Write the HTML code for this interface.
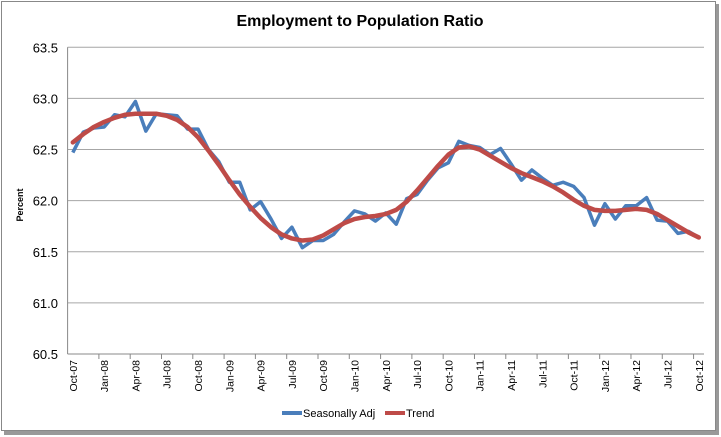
<!DOCTYPE html>
<html><head><meta charset="utf-8"><style>
body{margin:0;background:#fff;width:721px;height:437px;overflow:hidden;font-family:"Liberation Sans",sans-serif}
svg{display:block}
</style></head><body>
<svg id="c" width="721" height="437">
<rect x="4" y="4" width="715" height="431" fill="#999"/>
<rect x="1.5" y="1.5" width="714" height="429" fill="#fff" stroke="#888"/>
<text x="360" y="26" text-anchor="middle" font-size="16" font-weight="bold" fill="#000">Employment to Population Ratio</text>
<text transform="translate(23,205) rotate(-90)" text-anchor="middle" font-size="9" font-weight="bold">Percent</text>
<g id="grid"></g><g id="series"></g><g id="xl"></g>
<g>
<line x1="282" y1="413" x2="302" y2="413" stroke="#4a7ebb" stroke-width="4"/>
<text x="303" y="417" font-size="11">Seasonally Adj</text>
<line x1="385" y1="413" x2="405" y2="413" stroke="#be4b48" stroke-width="4"/>
<text x="406" y="417" font-size="11">Trend</text>
</g>
</svg>
<script>
const yTicks=[60.5,61.0,61.5,62.0,62.5,63.0,63.5];
const xLabels=["Oct-07","Jan-08","Apr-08","Jul-08","Oct-08","Jan-09","Apr-09","Jul-09","Oct-09","Jan-10","Apr-10","Jul-10","Oct-10","Jan-11","Apr-11","Jul-11","Oct-11","Jan-12","Apr-12","Jul-12","Oct-12"];
const seasAdj=[62.47,62.67,62.71,62.72,62.84,62.82,62.97,62.68,62.85,62.84,62.83,62.70,62.70,62.50,62.38,62.18,62.18,61.91,61.99,61.82,61.63,61.74,61.54,61.61,61.61,61.67,61.79,61.90,61.87,61.80,61.88,61.77,62.02,62.06,62.20,62.32,62.37,62.58,62.54,62.52,62.45,62.51,62.36,62.20,62.30,62.22,62.15,62.18,62.14,62.03,61.76,61.97,61.82,61.95,61.95,62.03,61.81,61.80,61.68,61.70,61.64];
const trend=[62.57,62.65,62.72,62.77,62.81,62.84,62.85,62.85,62.85,62.83,62.79,62.72,62.62,62.49,62.35,62.20,62.06,61.94,61.83,61.74,61.67,61.63,61.61,61.62,61.66,61.72,61.78,61.82,61.84,61.85,61.87,61.91,61.99,62.10,62.22,62.34,62.45,62.52,62.53,62.50,62.44,62.38,62.32,62.27,62.23,62.19,62.14,62.08,62.01,61.95,61.91,61.90,61.90,61.91,61.92,61.91,61.87,61.81,61.75,61.69,61.64];
const NS="http://www.w3.org/2000/svg";
const X0=67.6,X1=704,Y0=354,Y1=47.3,N=seasAdj.length;
const step=(X1-X0)/N;
const xs=i=>X0+step*(i+0.5);
const ys=v=>Y0-(v-60.5)/3*(Y0-Y1);
function mk(t,a,p){const e=document.createElementNS(NS,t);for(const k in a)e.setAttribute(k,a[k]);p.appendChild(e);return e;}
const g=document.getElementById('grid');
yTicks.forEach(v=>{
 if(v>60.5){const l=mk('line',{x1:X0,x2:X1,y1:ys(v),y2:ys(v),stroke:'#a6a6a6','stroke-width':1},g);
 
 }
 const t=mk('text',{x:58,y:ys(v)+5,'text-anchor':'end','font-size':13},g);
 t.textContent=v.toFixed(1);
 
 
});
const ax=mk('line',{x1:X0,x2:X0,y1:Y1,y2:Y0,stroke:'#888'},g);


const bx=mk('line',{x1:X0,x2:X1,y1:Y0,y2:Y0,stroke:'#888'},g);


const xl=document.getElementById('xl');
for(let q=1;q<=xLabels.length;q++){const x=X0+step*3*q-step*0.0;
 if(x<=X1+1){const tk=mk('line',{x1:x,x2:x,y1:Y0,y2:Y0+5,stroke:'#888'},xl);
 
 }}
xLabels.forEach((s,k)=>{const x=xs(k*3)+4;
 const t=mk('text',{transform:`translate(${x},${Y0+6}) rotate(-90)`,'text-anchor':'end','font-size':10.5},xl);
 t.textContent=s;
 
 
});
const s=document.getElementById('series');
const p1=mk('polyline',{points:seasAdj.map((v,i)=>xs(i)+','+ys(v)).join(' '),fill:'none',stroke:'#4a7ebb','stroke-width':3.5,'stroke-linejoin':'round'},s);


const p2=mk('polyline',{points:trend.map((v,i)=>xs(i)+','+ys(v)).join(' '),fill:'none',stroke:'#be4b48','stroke-width':4.5,'stroke-linejoin':'round','stroke-linecap':'round'},s);


</script>
</body></html>
